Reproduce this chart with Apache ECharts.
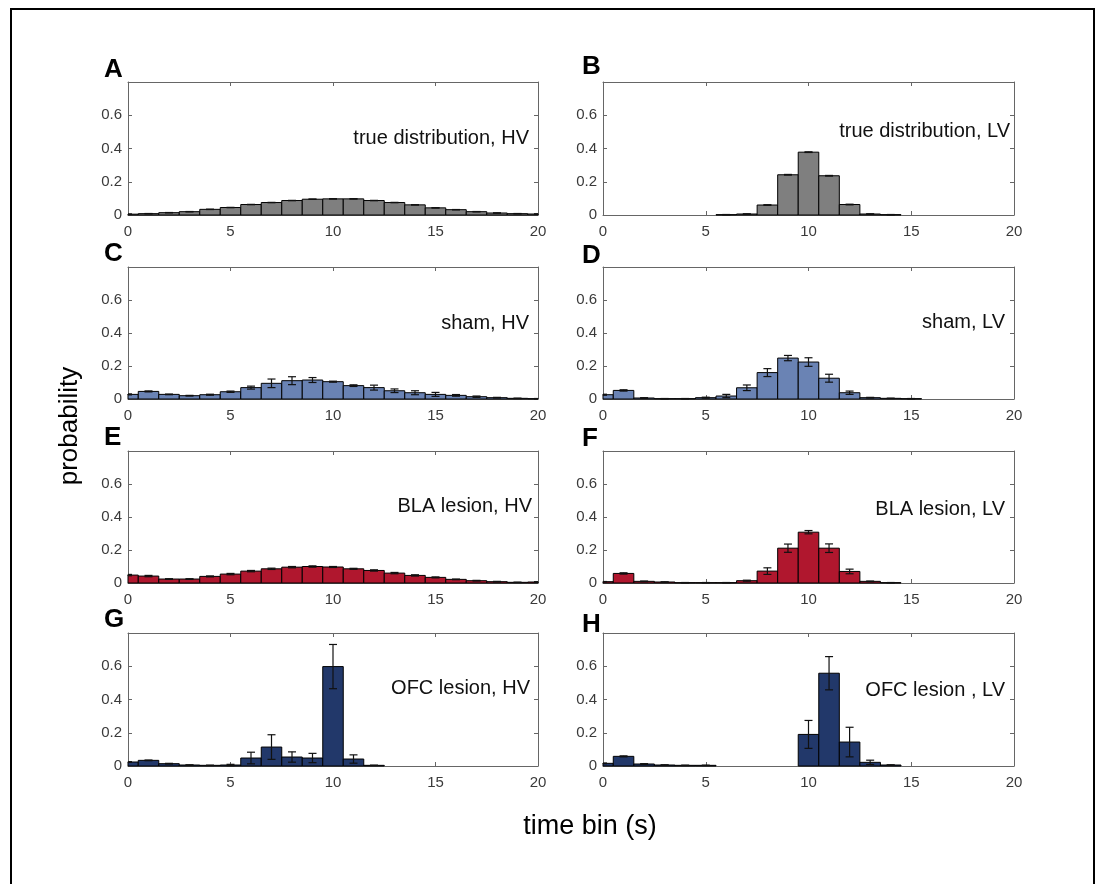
<!DOCTYPE html>
<html><head><meta charset="utf-8">
<script src="https://cdn.jsdelivr.net/npm/echarts@6/dist/echarts.min.js"></script>
<style>html,body{margin:0;padding:0;background:#fff}#chart{width:1099px;height:884px}</style>
</head><body><div id="chart"></div>
<script>
// ---- data ----
const timeBins = [0,1,2,3,4,5,6,7,8,9,10,11,12,13,14,15,16,17,18,19,20];
const xTicks = [0,5,10,15,20];
const yTicks = [0,0.2,0.4,0.6];

const trueHV    = [0.005,0.008,0.014,0.02,0.034,0.045,0.063,0.075,0.087,0.095,0.097,0.097,0.087,0.075,0.061,0.043,0.032,0.02,0.012,0.008,0.006];
const trueHVErr = [0.001,0.001,0.001,0.001,0.001,0.001,0.001,0.001,0.001,0.001,0.001,0.001,0.001,0.001,0.001,0.001,0.001,0.001,0.001,0.001,0.001];
const trueLV    = [0,0,0,0,0,0,0.002,0.006,0.06,0.242,0.378,0.236,0.063,0.006,0.002,0,0,0,0,0,0];
const trueLVErr = [0,0,0,0,0,0,0.001,0.001,0.002,0.002,0.002,0.002,0.002,0.001,0.001,0,0,0,0,0,0];

const shamHV    = [0.028,0.046,0.028,0.02,0.026,0.044,0.069,0.095,0.111,0.115,0.105,0.081,0.069,0.05,0.038,0.028,0.022,0.014,0.008,0.004,0.002];
const shamHVErr = [0.003,0.003,0.002,0.002,0.003,0.004,0.009,0.026,0.024,0.015,0.003,0.005,0.015,0.011,0.012,0.012,0.005,0.004,0.002,0.001,0.001];
const shamLV    = [0.026,0.052,0.006,0.002,0.002,0.008,0.018,0.068,0.16,0.248,0.224,0.126,0.038,0.008,0.004,0.002,0,0,0,0,0];
const shamLVErr = [0.003,0.004,0.002,0.001,0.001,0.003,0.01,0.017,0.024,0.016,0.026,0.024,0.01,0.002,0.001,0.001,0,0,0,0,0];

const blaHV     = [0.048,0.042,0.024,0.024,0.04,0.054,0.072,0.086,0.096,0.1,0.097,0.086,0.076,0.06,0.046,0.034,0.022,0.014,0.008,0.004,0.006];
const blaHVErr  = [0.004,0.004,0.002,0.002,0.003,0.004,0.004,0.004,0.004,0.004,0.003,0.003,0.004,0.004,0.004,0.003,0.002,0.002,0.002,0.001,0.002];
const blaLV     = [0.008,0.058,0.01,0.006,0.002,0.002,0.002,0.014,0.072,0.211,0.308,0.211,0.07,0.01,0.002,0,0,0,0,0,0];
const blaLVErr  = [0.001,0.004,0.002,0.001,0.001,0.001,0.001,0.003,0.02,0.025,0.01,0.026,0.014,0.002,0.001,0,0,0,0,0,0];

const ofcHV     = [0.024,0.034,0.014,0.006,0.004,0.006,0.048,0.114,0.054,0.048,0.598,0.042,0.004,0,0,0,0,0,0,0,0];
const ofcHVErr  = [0.002,0.002,0.002,0.001,0.001,0.004,0.035,0.074,0.031,0.028,0.133,0.025,0.001,0,0,0,0,0,0,0,0];
const ofcLV     = [0.016,0.058,0.012,0.006,0.004,0.004,0,0,0,0,0.19,0.558,0.144,0.022,0.006,0,0,0,0,0,0];
const ofcLVErr  = [0.002,0.003,0.002,0.001,0.001,0.001,0,0,0,0,0.084,0.1,0.089,0.013,0.001,0,0,0,0,0,0];

const panelLetters = ['A','B','C','D','E','F','G','H'];
const panelLabels = ['true distribution, HV','true distribution, LV','sham, HV','sham, LV','BLA lesion, HV','BLA lesion, LV','OFC lesion, HV','OFC lesion , LV'];
const xAxisTitle = 'time bin (s)';
const yAxisTitle = 'probability';

// ---- styling / layout ----
const GRAY = '#7f7f7f', BLUE = '#6a83b4', RED = '#b0172e', NAVY = '#22386a';
const panelValues = [trueHV, trueLV, shamHV, shamLV, blaHV, blaLV, ofcHV, ofcLV];
const panelErrors = [trueHVErr, trueLVErr, shamHVErr, shamLVErr, blaHVErr, blaLVErr, ofcHVErr, ofcLVErr];
const panelColors = [GRAY, GRAY, BLUE, BLUE, RED, RED, NAVY, NAVY];
const colLeft = [128, 603], colWidth = [410, 411];
const rowTop = [82, 267, 451, 633], rowHeight = [133, 132, 132, 133];
const letterDy = [-12, -15, -13, -11, -13, -12, -13, -8];
const labelRight = [529, 1010, 529, 1005, 532, 1005, 530, 1005];
const labelDy = [56, 49, 56, 55, 55, 58, 55, 57];
const FONT = '"Liberation Sans", Arial, Helvetica, sans-serif';
const AXIS_COLOR = '#666';

const chart = echarts.init(document.getElementById('chart'), null, {renderer: 'canvas'});

function barRender(color) {
  return function (params, api) {
    const x = api.value(0), y = api.value(1);
    if (!y) return;
    const p0 = api.coord([x - 0.5, y]);
    const p1 = api.coord([x + 0.5, 0]);
    const cs = params.coordSys;
    const rect = echarts.graphic.clipRectByRect(
      {x: p0[0], y: p0[1], width: p1[0] - p0[0], height: p1[1] - p0[1]},
      {x: cs.x, y: cs.y, width: cs.width, height: cs.height});
    if (!rect) return;
    return {type: 'rect', shape: rect, style: {fill: color, stroke: '#000', lineWidth: 1}};
  };
}
function errRender(params, api) {
  const x = api.value(0), y = api.value(1), e = api.value(2);
  if (!y) return;
  const cs = params.coordSys;
  const top = api.coord([x, y + e]);
  const bot = api.coord([x, Math.max(0, y - e)]);
  const cap = 4;
  const cl = Math.max(cs.x, top[0] - cap), cr = Math.min(cs.x + cs.width, top[0] + cap);
  const st = {stroke: '#111', lineWidth: 1.2};
  return {type: 'group', children: [
    {type: 'line', shape: {x1: top[0], y1: top[1], x2: bot[0], y2: bot[1]}, style: st},
    {type: 'line', shape: {x1: cl, y1: top[1], x2: cr, y2: top[1]}, style: st},
    {type: 'line', shape: {x1: cl, y1: bot[1], x2: cr, y2: bot[1]}, style: st}
  ]};
}

const grids = [], xAxes = [], yAxes = [], series = [], graphics = [];
graphics.push({type: 'rect', z: -1, shape: {x: 11, y: 9, width: 1083, height: 920},
  style: {fill: 'none', stroke: '#000', lineWidth: 2}});

for (let i = 0; i < 8; i++) {
  const col = i % 2, row = Math.floor(i / 2);
  grids.push({left: colLeft[col], top: rowTop[row], width: colWidth[col], height: rowHeight[row], containLabel: false});
  const common = {gridIndex: i, type: 'value', min: 0, max: 20, interval: 5,
    axisLine: {show: true, onZero: false, lineStyle: {color: AXIS_COLOR, width: 1}},
    axisTick: {show: true, inside: true, length: 4, lineStyle: {color: AXIS_COLOR}},
    splitLine: {show: false}};
  xAxes.push(Object.assign({}, common, {position: 'bottom',
    axisLabel: {show: true, fontSize: 15, color: '#3a3a3a', fontFamily: FONT, margin: 9,
      formatter: v => xTicks.includes(v) ? String(v) : ''}}));
  xAxes.push(Object.assign({}, common, {position: 'top', axisLabel: {show: false}}));
  const ycommon = {gridIndex: i, type: 'value', min: 0, max: 0.8, interval: 0.2,
    axisLine: {show: true, onZero: false, lineStyle: {color: AXIS_COLOR, width: 1}},
    axisTick: {show: true, inside: true, length: 4, lineStyle: {color: AXIS_COLOR}},
    splitLine: {show: false}};
  yAxes.push(Object.assign({}, ycommon, {position: 'left',
    axisLabel: {show: true, fontSize: 15, color: '#3a3a3a', fontFamily: FONT, margin: 6,
      formatter: v => { const t = yTicks.find(k => Math.abs(k - v) < 1e-6); return t === undefined ? '' : String(t); }}}));
  yAxes.push(Object.assign({}, ycommon, {position: 'right', axisLabel: {show: false}}));

  const data = timeBins.map((x, k) => [x, panelValues[i][k], panelErrors[i][k]]);
  series.push({type: 'custom', xAxisIndex: 2 * i, yAxisIndex: 2 * i, renderItem: barRender(panelColors[i]),
    encode: {x: 0, y: 1}, data: data, z: 2, silent: true});
  series.push({type: 'custom', xAxisIndex: 2 * i, yAxisIndex: 2 * i, renderItem: errRender,
    encode: {x: 0, y: [1, 2]}, data: data, z: 3, silent: true});

  graphics.push({type: 'text', x: col === 0 ? 104 : 582, y: rowTop[row] + letterDy[i],
    style: {text: panelLetters[i], font: 'bold 26px ' + FONT, fill: '#000',
      align: 'left', textAlign: 'left', verticalAlign: 'middle', textVerticalAlign: 'middle'}});
  graphics.push({type: 'text', x: labelRight[i], y: rowTop[row] + labelDy[i],
    style: {text: panelLabels[i], font: '20px ' + FONT, fill: '#111',
      align: 'right', textAlign: 'right', verticalAlign: 'middle', textVerticalAlign: 'middle'}});
}
graphics.push({type: 'text', x: 590, y: 827,
  style: {text: xAxisTitle, font: '27px ' + FONT, fill: '#000',
    align: 'center', textAlign: 'center', verticalAlign: 'middle', textVerticalAlign: 'middle'}});
graphics.push({type: 'text', x: 70, y: 426, rotation: Math.PI / 2,
  style: {text: yAxisTitle, font: '26px ' + FONT, fill: '#000',
    align: 'center', textAlign: 'center', verticalAlign: 'middle', textVerticalAlign: 'middle'}});

chart.setOption({
  animation: false,
  backgroundColor: '#fff',
  grid: grids, xAxis: xAxes, yAxis: yAxes, series: series, graphic: graphics
});
</script></body></html>
